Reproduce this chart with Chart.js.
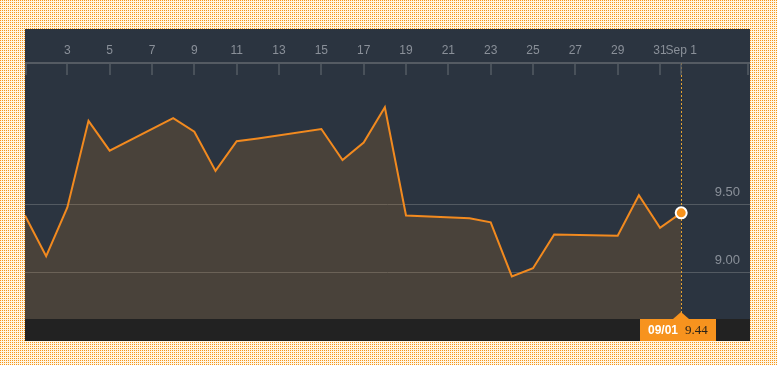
<!DOCTYPE html>
<html>
<head>
<meta charset="utf-8">
<script src="https://cdn.jsdelivr.net/npm/chart.js@4.4.1/dist/chart.umd.min.js"></script>
<style>
  html, body {
    margin: 0;
    padding: 0;
    width: 777px;
    height: 365px;
    overflow: hidden;
    background-color: #fff6e2;
    background-image: conic-gradient(from 270deg at 1px 1px, #f7941d 90deg, #fff6e2 90deg);
    background-size: 2px 2px;
  }
  #panel {
    position: absolute;
    left: 25px;
    top: 29px;
    width: 725px;
    height: 312px;
    background: #2b3440;
  }
</style>
</head>
<body>
<div id="panel"><canvas id="price-chart" width="725" height="312"></canvas></div>
<script>
// Trading days of August (1..31) plus Sep 1 as day 32
const days = [1, 2, 3, 4, 5, 8, 9, 10, 11, 12, 15, 16, 17, 18, 19, 22, 23, 24, 25, 26, 29, 30, 31, 32];
const closes = [9.42, 9.12, 9.48, 10.12, 9.90, 10.14, 10.04, 9.75, 9.97, 9.99, 10.06, 9.83, 9.96, 10.22,
                9.42, 9.40, 9.37, 8.97, 9.03, 9.28, 9.27, 9.57, 9.33, 9.44];

// Axis ticks
const tickDays = [3, 5, 7, 9, 11, 13, 15, 17, 19, 21, 23, 25, 27, 29, 31, 32];
const tickLabels = ['3', '5', '7', '9', '11', '13', '15', '17', '19', '21', '23', '25', '27', '29', '31', 'Sep 1'];
const priceTicks = [9.0, 9.5];

const lastLabel = '09/01';

const orange = '#f28a1f';
const axisGray = '#555b63';

// Marker line, bottom strip, ticks and readout box
const overlayPlugin = {
    id: 'overlay',
    beforeDatasetsDraw(chart) {
        const { ctx, chartArea } = chart;
        const meta = chart.getDatasetMeta(0);
        const last = meta.data[meta.data.length - 1];
        ctx.save();
        ctx.strokeStyle = '#e6a332';
        ctx.lineWidth = 1;
        ctx.setLineDash([2, 2]);
        ctx.beginPath();
        ctx.moveTo(Math.round(last.x) + 0.5, chartArea.top);
        ctx.lineTo(Math.round(last.x) + 0.5, chartArea.bottom);
        ctx.stroke();
        ctx.restore();
    },
    afterDraw(chart) {
        const { ctx, chartArea } = chart;
        const xScale = chart.scales.x;
        const meta = chart.getDatasetMeta(0);
        const last = meta.data[meta.data.length - 1];

        ctx.save();
        // tick marks hanging below the axis line
        ctx.strokeStyle = axisGray;
        ctx.lineWidth = 1.5;
        const marks = [chartArea.left + 1, chartArea.right - 2];
        xScale.ticks.forEach(t => marks.push(xScale.getPixelForValue(t.value)));
        marks.forEach(px => {
            ctx.beginPath();
            ctx.moveTo(Math.round(px), chartArea.top);
            ctx.lineTo(Math.round(px), chartArea.top + 12);
            ctx.stroke();
        });

        // bottom strip
        ctx.fillStyle = '#222222';
        ctx.fillRect(0, chartArea.bottom, chart.width, chart.height - chartArea.bottom);

        // readout box
        const cx = Math.round(last.x);
        const top = chartArea.bottom;
        ctx.fillStyle = '#f7931e';
        ctx.fillRect(cx - 41, top, 76, chart.height - top);
        ctx.beginPath();
        ctx.moveTo(cx - 8, top);
        ctx.lineTo(cx, top - 7);
        ctx.lineTo(cx + 8, top);
        ctx.closePath();
        ctx.fill();

        ctx.textBaseline = 'middle';
        ctx.font = 'bold 12px Arial, "Liberation Sans", sans-serif';
        ctx.fillStyle = '#ffffff';
        ctx.fillText(lastLabel, cx - 33, top + 12);
        ctx.font = '13px "Liberation Serif", serif';
        ctx.fillStyle = '#2a2218';
        ctx.fillText(closes[closes.length - 1].toFixed(2), cx + 4, top + 12);
        ctx.restore();
    }
};

const ctx = document.getElementById('price-chart').getContext('2d');
const lastIndex = closes.length - 1;

new Chart(ctx, {
    type: 'line',
    data: {
        datasets: [{
            data: days.map((d, i) => ({ x: d, y: closes[i] })),
            borderColor: orange,
            borderWidth: 2,
            backgroundColor: 'rgba(247, 147, 30, 0.15)',
            fill: 'start',
            tension: 0,
            pointRadius: c => (c.dataIndex === lastIndex ? 5.5 : 0),
            pointBackgroundColor: '#f7931e',
            pointBorderColor: '#ffffff',
            pointBorderWidth: 2,
            pointHoverRadius: 0,
        }]
    },
    options: {
        responsive: false,
        animation: false,
        events: [],
        layout: {
            autoPadding: false,
            padding: { top: 0, bottom: 22, left: 0, right: 0 }
        },
        plugins: {
            legend: { display: false },
            tooltip: { enabled: false }
        },
        scales: {
            x: {
                type: 'linear',
                position: 'top',
                min: 1,
                max: 35.25,
                afterBuildTicks: scale => {
                    scale.ticks = tickDays.map(v => ({ value: v }));
                },
                afterFit: scale => { scale.height = 34; },
                ticks: {
                    autoSkip: false,
                    maxRotation: 0,
                    padding: 5,
                    color: '#8a9099',
                    font: { family: 'Arial, "Liberation Sans", sans-serif', size: 12 },
                    callback: (value, index) => tickLabels[index]
                },
                grid: { display: false, drawTicks: false },
                border: { display: true, color: axisGray, width: 2 }
            },
            y: {
                position: 'right',
                min: 8.655,
                max: 10.548,
                afterBuildTicks: scale => {
                    scale.ticks = priceTicks.map(v => ({ value: v }));
                },
                afterFit: scale => { scale.width = 0; },
                ticks: {
                    mirror: true,
                    padding: -10,
                    labelOffset: -12,
                    color: '#8a9099',
                    font: { family: 'Arial, "Liberation Sans", sans-serif', size: 13 },
                    callback: value => value.toFixed(2)
                },
                grid: { color: '#535a62', lineWidth: 1, drawTicks: false },
                border: { display: false }
            }
        }
    },
    plugins: [overlayPlugin]
});
</script>
</body>
</html>
